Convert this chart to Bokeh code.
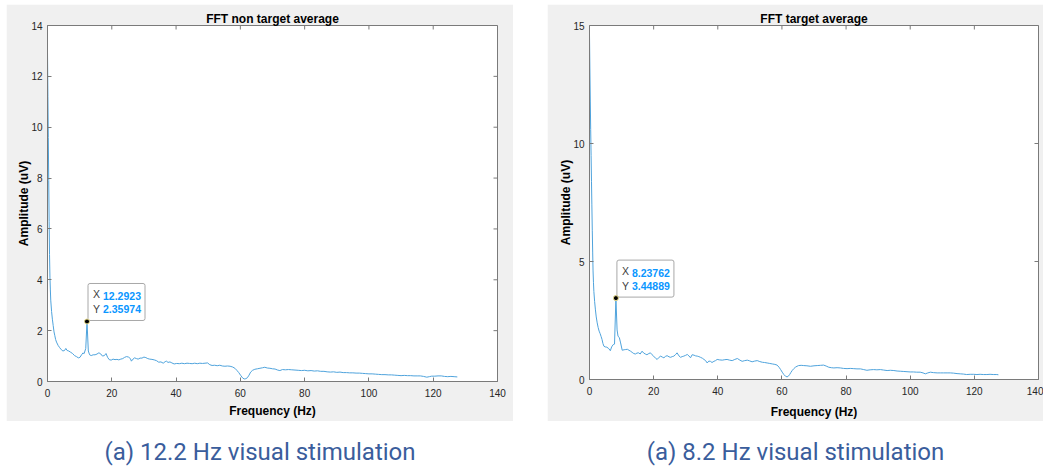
import math
from bokeh.plotting import figure
from bokeh.models import Range1d, FixedTicker, Spacer, ColumnDataSource
from bokeh.layouts import row, column
from bokeh.core.properties import value
from bokeh.embed import file_html
from bokeh.resources import INLINE

# ---- spectrum of the non-target average (12.2 Hz stimulation) ----
freq_a = [0, 0.13, 0.25, 0.38, 0.51, 0.63, 0.76, 0.89, 1.01, 1.27, 1.52, 1.77, 2.03, 2.28,
          2.53, 2.8, 3.3, 3.8, 4.3, 4.8, 5.3, 5.7, 6.1, 6.6, 7.2, 7.8, 8.4, 9.0, 9.6, 10.1,
          10.6, 11.0, 11.4, 11.9, 12.2923, 12.7, 13.1, 13.6, 14.2, 14.8, 15.4, 16.0, 16.6,
          17.1, 17.7, 18.2, 18.7, 19.2, 19.8, 20.4, 21.0, 21.6, 22.2, 22.8, 23.4, 24.0, 24.6,
          25.2, 25.8, 26.1, 26.6, 27.1, 27.7, 28.2, 28.8, 29.4, 30.0, 30.6, 31.2, 31.8, 32.5,
          33.2, 33.9, 34.6, 35.3, 36.0, 36.6, 37.0, 37.5, 38.1, 38.7, 39.4, 40.2, 41.0, 41.8,
          42.6, 43.4, 44.2, 45.0, 45.8, 46.6, 47.4, 48.2, 49.0, 49.8, 50.5, 51.2, 52.0, 52.8,
          53.6, 54.4, 55.2, 56.0, 56.8, 57.6, 58.3, 58.9, 59.5, 60.1, 60.7, 61.2, 61.7, 62.2,
          62.7, 63.2, 63.8, 64.5, 65.3, 66.1, 66.9, 67.6, 68.4, 69.2, 70.0, 70.8, 71.6, 72.3,
          73.1, 74.0, 75.0, 76.0, 77.0, 78.0, 79.0, 80.0, 81.0, 82.0, 83.0, 84.0, 85.0, 86.0,
          87.0, 88.0, 89.0, 90.0, 91.0, 92.0, 93.0, 94.0, 95.0, 96.0, 97.0, 98.0, 99.0, 100.0,
          101.0, 102.0, 103.0, 104.0, 105.0, 106.0, 107.0, 108.0, 109.0, 110.0, 111.0, 112.0,
          113.0, 114.0, 115.0, 116.0, 117.0, 118.0, 118.8, 119.5, 120.5, 121.5, 122.5, 123.5,
          124.5, 125.5, 126.5, 127.5]
amp_a = [12.95, 11.2, 9.6, 7.9, 6.3, 5.0, 4.1, 3.6, 3.2, 2.75, 2.45, 2.2, 1.95, 1.8,
         1.65, 1.55, 1.42, 1.33, 1.25, 1.2, 1.22, 1.3, 1.22, 1.2, 1.15, 1.1, 1.02, 0.98, 0.93, 0.95,
         1.05, 1.12, 1.1, 1.3, 2.35974, 1.2, 1.05, 1.02, 1.05, 1.05, 1.08, 1.13, 1.08,
         1.0, 1.02, 1.1, 0.95, 0.86, 0.84, 0.88, 0.86, 0.87, 0.85, 0.88, 0.9, 0.95, 0.98,
         0.96, 0.9, 0.8, 0.88, 0.93, 0.9, 0.88, 0.92, 0.92, 0.96, 0.94, 0.9, 0.88, 0.87,
         0.85, 0.82, 0.76, 0.77, 0.72, 0.78, 0.8, 0.75, 0.77, 0.73, 0.69, 0.71, 0.7, 0.72,
         0.7, 0.72, 0.71, 0.7, 0.72, 0.7, 0.72, 0.71, 0.72, 0.73, 0.66, 0.63, 0.64, 0.62,
         0.64, 0.61, 0.6, 0.61, 0.6, 0.57, 0.52, 0.44, 0.35, 0.24, 0.14, 0.1, 0.11, 0.15,
         0.25, 0.37, 0.44, 0.48, 0.5, 0.52, 0.54, 0.56, 0.53, 0.52, 0.5, 0.49, 0.45, 0.43,
         0.47, 0.46, 0.47, 0.46, 0.45, 0.44, 0.43, 0.44, 0.42, 0.43, 0.41, 0.42, 0.4, 0.4,
         0.38, 0.37, 0.38, 0.36, 0.37, 0.35, 0.35, 0.34, 0.34, 0.33, 0.33, 0.32, 0.31, 0.3,
         0.3, 0.29, 0.28, 0.27, 0.27, 0.26, 0.26, 0.25, 0.24, 0.23, 0.24, 0.23,
         0.23, 0.22, 0.22, 0.22, 0.2, 0.17, 0.19, 0.21, 0.21, 0.22, 0.22, 0.2,
         0.19, 0.2, 0.19, 0.18]
tip_freq_a = 12.2923

# ---- spectrum of the target average (8.2 Hz stimulation) ----
freq_b = [0, 0.12, 0.25, 0.37, 0.5, 0.62, 0.74, 0.87, 0.99, 1.11, 1.24, 1.36, 1.6, 1.85, 2.1,
          2.4, 2.7, 3.0, 3.3, 3.6, 3.9, 4.2, 4.5, 4.9, 5.4, 6.0, 6.5, 6.9, 7.4, 7.8, 8.23762,
          8.6, 8.9, 9.3, 9.7, 10.2, 10.8, 11.3, 11.8, 12.3, 12.8, 13.3, 13.8, 14.3, 14.8, 15.3,
          15.8, 16.4, 16.9, 17.4, 17.9, 18.5, 19.0, 19.5, 20.0, 20.6, 21.1, 21.6, 22.2, 22.7,
          23.2, 23.7, 24.2, 24.8, 25.3, 25.8, 26.3, 26.8, 27.3, 27.9, 28.4, 28.9, 29.4, 29.9,
          30.5, 31.0, 31.5, 32.0, 32.6, 33.1, 33.6, 34.1, 34.6, 35.2, 35.7, 36.2, 36.7, 37.2,
          37.7, 38.2, 38.8, 39.3, 39.8, 40.6, 41.4, 42.2, 42.9, 43.7, 44.5, 45.3, 46.1, 46.9,
          47.6, 48.4, 49.2, 49.9, 50.7, 51.5, 52.3, 53.1, 53.9, 54.6, 55.4, 56.2, 57.0, 57.8,
          58.5, 59.1, 59.6, 60.1, 60.6, 61.1, 61.6, 62.0, 62.4, 62.8, 63.2, 63.7, 64.2, 64.7,
          65.2, 66.0, 66.8, 67.8, 68.9, 70.0, 71.0, 72.0, 73.0, 73.8, 74.6, 75.4, 76.2, 77.2,
          78.2, 79.2, 80.3, 81.3, 82.4, 83.4, 84.5, 85.5, 86.5, 87.5, 88.6, 89.6, 90.7, 91.7,
          92.8, 93.8, 94.9, 95.9, 96.9, 98.0, 99.0, 100.0, 101.0, 102.0, 103.1, 104.0, 104.7,
          105.5, 106.3, 107.3, 108.4, 109.4, 110.4, 111.5, 112.5, 113.5, 114.6, 115.6, 116.6,
          117.6, 118.7, 119.7, 120.8, 121.8, 122.8, 123.9, 124.9, 125.9, 127.0, 127.5]
amp_b = [14.6, 13.2, 11.8, 10.6, 9.5, 8.4, 7.4, 6.3, 5.4, 4.6, 4.1, 3.73, 3.3, 2.95, 2.65,
         2.4, 2.2, 2.05, 1.95, 1.83, 1.7, 1.52, 1.41, 1.38, 1.37, 1.31, 1.22, 1.38, 1.48, 1.5, 3.44889,
         2.1, 1.83, 1.78, 1.55, 1.24, 1.26, 1.27, 1.28, 1.24, 1.2, 1.15, 1.1, 1.08, 1.12, 1.13,
         1.08, 1.2, 1.12, 1.08, 1.05, 1.1, 1.13, 1.05, 0.99, 0.9, 0.85, 0.93, 0.99, 0.95,
         0.92, 0.98, 1.01, 0.96, 0.94, 0.97, 0.99, 1.05, 1.13, 1.0, 0.94, 0.97, 0.99, 1.02,
         1.06, 1.0, 0.92, 1.05, 1.03, 1.0, 0.99, 0.97, 0.94, 0.9, 0.85, 0.8, 0.7, 0.78,
         0.77, 0.72, 0.77, 0.8, 0.85, 0.83, 0.82, 0.84, 0.85, 0.82, 0.8, 0.85, 0.89, 0.82,
         0.77, 0.8, 0.82, 0.79, 0.75, 0.78, 0.8, 0.76, 0.73, 0.72, 0.7, 0.68, 0.66, 0.64,
         0.61, 0.52, 0.42, 0.31, 0.21, 0.14, 0.11, 0.14, 0.21, 0.3, 0.38, 0.46, 0.52, 0.56,
         0.59, 0.6, 0.59, 0.58, 0.56, 0.58, 0.59, 0.6, 0.61, 0.57, 0.52, 0.5, 0.49, 0.5,
         0.49, 0.47, 0.46, 0.47, 0.46, 0.45, 0.45, 0.42, 0.39, 0.41, 0.42, 0.41, 0.42, 0.4,
         0.38, 0.39, 0.38, 0.36, 0.35, 0.34, 0.33, 0.32, 0.32, 0.31, 0.31, 0.28, 0.24,
         0.28, 0.31, 0.29, 0.28, 0.28, 0.28, 0.28, 0.28, 0.27, 0.25, 0.24, 0.23,
         0.21, 0.22, 0.22, 0.21, 0.22, 0.21, 0.21, 0.22, 0.21, 0.21, 0.2]
tip_freq_b = 8.23762

x_ticks = [0, 20, 40, 60, 80, 100, 120, 140]
y_ticks_a = [0, 2, 4, 6, 8, 10, 12, 14]
y_ticks_b = [0, 5, 10, 15]

captions = ["(a) 12.2 Hz visual stimulation", "(a) 8.2 Hz visual stimulation"]
titles = ["FFT non target average", "FFT target average"]

PANEL_BG = "#f0f0f0"
AXIS_GRAY = "#7a7a7a"
TICK_TEXT = "#262626"
LINE_BLUE = "#4fa3dc"
TIP_BLUE = "#0a96ff"
CAPTION_BLUE = "#3a5d9c"
FONT = "Liberation Sans"
TICK_LEN = 4


def style_axis(ax, ticks):
    ax.ticker = FixedTicker(ticks=ticks)
    ax.axis_line_color = AXIS_GRAY
    ax.major_tick_line_color = AXIS_GRAY
    ax.major_tick_in = TICK_LEN
    ax.major_tick_out = 0
    ax.minor_tick_line_color = None
    ax.major_label_text_font = FONT
    ax.major_label_text_font_size = "10px"
    ax.major_label_text_color = TICK_TEXT
    ax.axis_label_text_font = FONT
    ax.axis_label_text_font_size = "12px"
    ax.axis_label_text_font_style = "bold"
    ax.axis_label_text_color = "#000000"


def spectrum_panel(title, freq, amp, tip_freq, y_max, y_ticks, frame_w, frame_h, borders,
                   xlabel_standoff):
    left, right, top, bottom = borders
    p = figure(frame_width=frame_w, frame_height=frame_h,
               output_backend="svg", toolbar_location=None,
               x_range=Range1d(0, 140), y_range=Range1d(0, y_max),
               min_border_left=left, min_border_right=right,
               min_border_top=top, min_border_bottom=bottom,
               background_fill_color="white", border_fill_color=PANEL_BG)
    p.grid.visible = False
    p.outline_line_color = AXIS_GRAY
    p.title.text = title
    p.title.align = "center"
    p.title.text_font = FONT
    p.title.text_font_size = "12px"
    p.title.text_font_style = "bold"
    p.title.text_color = "#000000"
    p.title.text_line_height = 1.0
    p.title.standoff = 0

    style_axis(p.xaxis[0], x_ticks)
    style_axis(p.yaxis[0], y_ticks)
    p.xaxis.axis_label = "Frequency (Hz)"
    p.yaxis.axis_label = "Amplitude (uV)"
    p.xaxis.major_label_standoff = 7
    p.yaxis.major_label_standoff = 5
    p.xaxis.axis_label_standoff = xlabel_standoff
    p.yaxis.axis_label_standoff = -3

    # inward box ticks along the top and right edges of the axes
    p.ray(x=x_ticks, y=[y_max] * len(x_ticks), length=TICK_LEN, length_units="screen",
          angle=-math.pi / 2, line_color=AXIS_GRAY, line_width=1)
    p.ray(x=[140] * len(y_ticks), y=y_ticks, length=TICK_LEN, length_units="screen",
          angle=math.pi, line_color=AXIS_GRAY, line_width=1)

    src = ColumnDataSource(dict(f=freq, a=amp))
    p.line("f", "a", source=src, line_color=LINE_BLUE, line_width=1)

    # data tip on the stimulation peak
    i = freq.index(tip_freq)
    fx, fy = freq[i], amp[i]
    xs = "%.6g" % fx
    ys = "%.6g" % fy
    tip = ColumnDataSource(dict(x=[fx], y=[fy]))
    # box with the X / Y row names; values are laid over it in blue
    p.text(x="x", y="y", source=tip, text=value("X\nY"),
           text_font=value(FONT), text_font_size="10.5px", text_color="#404040",
           text_line_height=1.25, anchor="bottom_left", x_offset=1, y_offset=-1,
           padding=[5, 45, 5, 5], background_fill_color="white",
           border_line_color="#a8a8a8", border_line_width=1, border_radius=2)
    for val, dy in ((xs, -25), (ys, -12)):
        p.text(x="x", y="y", source=tip, text=value(val), text_font=value(FONT),
               text_font_size="10.5px", text_font_style="bold", text_color=TIP_BLUE,
               text_align="left", text_baseline="middle", x_offset=16, y_offset=dy)
    p.scatter(x="x", y="y", source=tip, size=5, fill_color="black",
              line_color="#e8dc8c", line_width=1)
    return p


def caption_panel(text, width, height):
    c = figure(width=width, height=height, output_backend="svg", toolbar_location=None,
               x_range=Range1d(0, 1), y_range=Range1d(0, 1),
               x_axis_type=None, y_axis_type=None, min_border=0,
               background_fill_color="white", border_fill_color="white")
    c.grid.visible = False
    c.outline_line_color = None
    c.text(x=[0.5], y=[0.36], text=[text], text_font=value("Roboto"), text_font_size="24px",
           text_color=CAPTION_BLUE, text_align="center", text_baseline="middle")
    return c


p1 = spectrum_panel(titles[0], freq_a, amp_a, tip_freq_a, 14, y_ticks_a, 450, 356,
                    (41, 16, 21, 40), 4)
p2 = spectrum_panel(titles[1], freq_b, amp_b, tip_freq_b, 15, y_ticks_b, 449, 354,
                    (42, 5, 20, 43), 7)
c1 = caption_panel(captions[0], 507, 47)
c2 = caption_panel(captions[1], 496, 47)

layout = column(
    Spacer(width=1043, height=4),
    row(Spacer(width=6, height=417), p1, Spacer(width=34, height=417), p2),
    row(Spacer(width=6, height=47), c1, Spacer(width=34, height=47), c2),
)

open("out.html", "w").write(file_html(layout, INLINE))
